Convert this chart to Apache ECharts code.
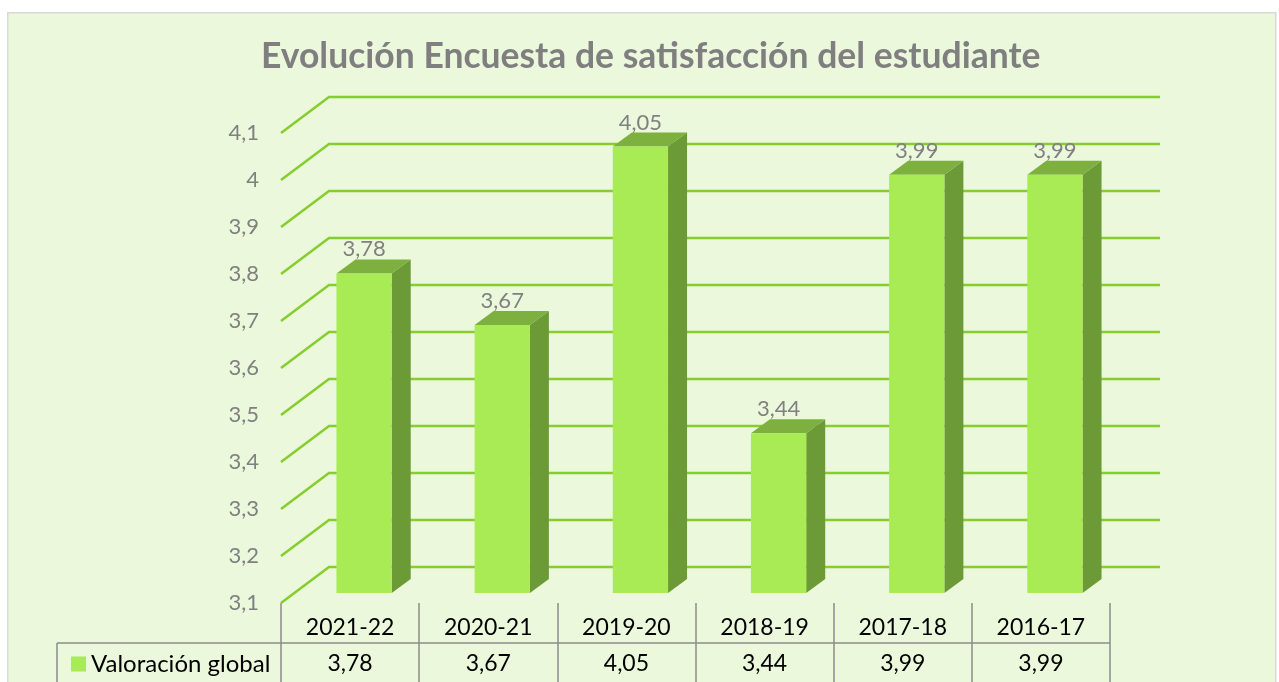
<!DOCTYPE html>
<html><head><meta charset="utf-8">
<script src="https://cdn.jsdelivr.net/npm/echarts@6/dist/echarts.min.js"></script>
<style>html,body{margin:0;padding:0;background:#fff}#c{width:1279px;height:682px}</style>
</head><body><div id="c"></div>
<script>
const title = 'Evolución Encuesta de satisfacción del estudiante';
const seriesName = 'Valoración global';
const categories = ['2021-22','2020-21','2019-20','2018-19','2017-18','2016-17'];
const values = [3.78, 3.67, 4.05, 3.44, 3.99, 3.99];
const yTicks = [3.1,3.2,3.3,3.4,3.5,3.6,3.7,3.8,3.9,4.0,4.1];

const FONT = 'Lato';
const fmt = v => String(Math.round(v*100)/100).replace('.', ',');
const C = {bg:'#EBF8DB', grid:'#86CE2E', front:'#A9EB55', side:'#6B9A36', top:'#7DB03F', grey:'#808080', line:'#8C8C8C'};

const chart = echarts.init(document.getElementById('c'));
chart.setOption({
  animation: false,
  backgroundColor: '#fff',
  textStyle: {fontFamily: FONT},
  graphic: [
    {type:'rect', left:7, top:12, shape:{width:1268, height:680}, style:{fill:C.bg, stroke:'#D9D9D9', lineWidth:1.5}, z:-10},
    {type:'line', shape:{x1:57, y1:643, x2:1110, y2:643}, style:{stroke:C.line, lineWidth:1.5}, z:5},
    {type:'line', shape:{x1:57, y1:643, x2:57, y2:682}, style:{stroke:C.line, lineWidth:1.5}, z:5}
  ],
  title: {text: title, left: 256, top: 34, textStyle: {fontFamily: FONT, fontSize: 35.5, fontWeight: 'bold', color: '#7F7F7F'}},
  legend: {left: 66, top: 647, itemWidth: 15, itemHeight: 15, itemGap: 7, icon: 'rect',
    data: [seriesName], textStyle: {fontFamily: FONT, fontSize: 24, color: '#000'}},
  grid: {left: 281, right: 169, top: 133, bottom: 79},
  xAxis: [
    {type: 'category', data: categories, position: 'bottom',
      axisLine: {show: false},
      axisTick: {show: true, length: 79, lineStyle: {color: C.line, width: 1.5}},
      axisLabel: {margin: 13, fontSize: 23, color: '#000', fontFamily: FONT}},
    {type: 'category', data: values.map(fmt), position: 'bottom', offset: 40,
      axisLine: {show: false}, axisTick: {show: false},
      axisLabel: {margin: 9, fontSize: 23, color: '#000', fontFamily: FONT}}
  ],
  yAxis: {type: 'value', min: 3.1, max: 4.1, interval: 0.1,
    splitLine: {show: false}, axisLine: {show: false}, axisTick: {show: false},
    axisLabel: {margin: 22, fontSize: 22, color: C.grey, fontFamily: FONT, formatter: v => fmt(v)}},
  series: [
    {type: 'custom', name: 'grid3d', silent: true, z: 1, legendHoverLink: false,
      data: yTicks.map(v => [0, v]),
      renderItem: (params, api) => {
        const cs = params.coordSys;
        const p = api.coord([0, api.value(1)]);
        return {type: 'polyline', shape: {points: [[cs.x, p[1]], [cs.x + 48, p[1] - 36], [cs.x + cs.width + 50, p[1] - 36]]},
          style: {stroke: C.grid, lineWidth: 2.5, fill: null}};
      }},
    {type: 'custom', name: seriesName, z: 3, itemStyle: {color: C.front},
      data: values.map((v, i) => [i, v]),
      renderItem: (params, api) => {
        const i = api.value(0), v = api.value(1);
        const base = api.coord([i, yTicks[0]]);
        const top = api.coord([i, v]);
        const bw = api.size([1, 0])[0];
        const hw = bw * 0.2;
        const fx = 14, fy = -10, dx = 19, dy = -14;
        const x0 = base[0] + fx - hw, x1 = base[0] + fx + hw;
        const yb = base[1] + fy, yt = top[1] + fy;
        return {type: 'group', children: [
          {type: 'polygon', shape: {points: [[x1, yt], [x1 + dx, yt + dy], [x1 + dx, yb + dy], [x1, yb]]}, style: {fill: C.side}},
          {type: 'polygon', shape: {points: [[x0, yt], [x0 + dx, yt + dy], [x1 + dx, yt + dy], [x1, yt]]}, style: {fill: C.top}},
          {type: 'rect', shape: {x: x0, y: yt, width: x1 - x0, height: yb - yt}, style: {fill: C.front}},
          {type: 'text', style: {text: fmt(v), x: (x0 + x1) / 2, y: yt - 24, align: 'center', verticalAlign: 'middle',
            fill: C.grey, font: '22px ' + FONT}}
        ]};
      }}
  ]
});
</script></body></html>
